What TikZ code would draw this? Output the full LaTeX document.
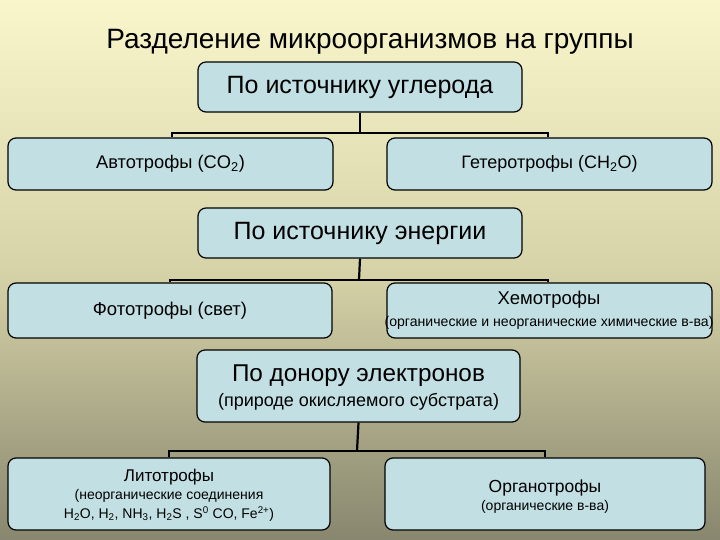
\documentclass[tikz,border=0pt]{standalone}
\usepackage{fontspec}
\setmainfont{Liberation Sans}
\definecolor{bgtop}{RGB}{249,246,204}
\definecolor{bgmid}{RGB}{214,211,168}
\definecolor{bgbot}{RGB}{136,134,110}
\definecolor{boxfill}{RGB}{194,224,228}
\tikzset{
  x=1pt, y=-1pt,
  box/.style={draw=black, line width=1.2pt, fill=boxfill, rounded corners=8pt,
    inner sep=0pt, align=center, anchor=center},
  conn/.style={draw=black, line width=2.2pt},
}
\newcommand{\fs}[1]{\fontsize{#1}{#1}\selectfont}
\begin{document}
\begin{tikzpicture}
\useasboundingbox (0,0) rectangle (720,540);
\shade[top color=bgtop, bottom color=bgmid] (0,0) rectangle (720,270);
\shade[top color=bgmid, bottom color=bgbot] (0,270) rectangle (720,540);

\node (title) at (370,42) {\fs{28}Разделение микроорганизмов на группы};

% level 1
\node[box, minimum width=324pt, minimum height=50pt] (b1) at (360,87) {\fs{25}По источнику углерода};
\node[box, minimum width=325pt, minimum height=52pt] (auto) at (170.5,164) {\fs{18.3}Автотрофы (CO\textsubscript{2})};
\node[box, minimum width=325pt, minimum height=52pt] (het) at (549.5,164) {\fs{18}Гетеротрофы (CH\textsubscript{2}O)};
\coordinate (j1) at (360,133);
\draw[conn] (b1.south) -- (j1);
\draw[conn] ([xshift=1.5pt]auto.north) |- (j1) -| ([xshift=-1.5pt]het.north);

% level 2
\node[box, minimum width=324pt, minimum height=50pt] (b2) at (360,233) {\fs{25}По источнику энергии};
\node[box, minimum width=324pt, minimum height=55pt] (photo) at (170,310.5) {\fs{18.5}Фототрофы (свет)};
\node[box, minimum width=325pt, minimum height=55pt] (chemo) at (549.5,310.5) {};
\node (chemoA) at (549,300) {\fs{18.5}Хемотрофы};
\node (chemoB) at (549,323) {\fs{14.1}(органические и неорганические химические в-ва)};
\coordinate (j2) at (359,280);
\draw[conn] (b2.south) -- (j2);
\draw[conn] ([xshift=0pt]photo.north) |- (j2) -| ([xshift=-1.5pt]chemo.north);

% level 3
\node[box, minimum width=323pt, minimum height=72pt] (b3) at (358.5,386) {};
\node (b3A) at (358.5,376) {\fs{24.3}По донору электронов};
\node (b3B) at (358.5,402) {\fs{18}(природе окисляемого субстрата)};
\node[box, minimum width=322pt, minimum height=72pt] (litho) at (169,494) {};
\node (lithoA) at (169,477) {\fs{17}Литотрофы};
\node (lithoB) at (169,496) {\fs{14}(неорганические соединения};
\node (lithoC) at (169,514) {\fs{14}H\textsubscript{2}O, H\textsubscript{2}, NH\textsubscript{3}, H\textsubscript{2}S , S\textsuperscript{0} CO, Fe\textsuperscript{2+})};
\node[box, minimum width=320pt, minimum height=72pt] (organo) at (545,494) {};
\node (organoA) at (545,488) {\fs{17.5}Органотрофы};
\node (organoB) at (545,507) {\fs{14}(органические в-ва)};
\coordinate (j3) at (357,451);
\draw[conn] (b3.south) -- (j3);
\draw[conn] (litho.north) |- (j3) -| (organo.north);
\end{tikzpicture}
\end{document}
